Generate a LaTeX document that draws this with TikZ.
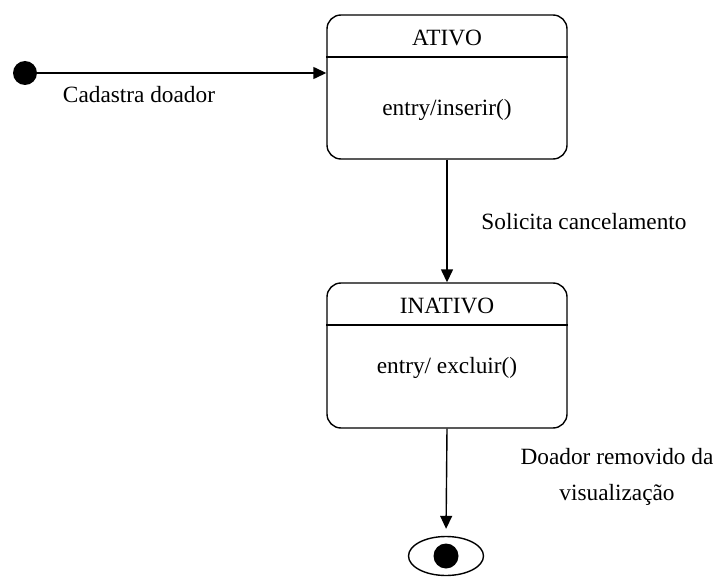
\documentclass[tikz,border=0pt]{standalone}
\usepackage{fontspec}
\setmainfont{Liberation Serif}
\usetikzlibrary{arrows.meta,shapes.geometric}

\tikzset{
  statebox/.style={draw, line width=1.4pt, rounded corners=14pt, minimum width=240pt, inner sep=0pt},
  flow/.style={line width=1.4pt, -{Triangle[length=13pt,width=12pt]}},
  lbl/.style={inner sep=0pt, font=\fontsize{23.3}{36}\selectfont, align=center},
  dot/.style={circle, fill=black, inner sep=0pt, minimum size=24pt},
}

\begin{document}
\begin{tikzpicture}[x=1pt,y=-1pt]
  \useasboundingbox (0,0) rectangle (723,583);

  % initial pseudo-state
  \node[dot] (init) at (25,73) {};

  % state ATIVO
  \node[statebox, minimum height=144pt] (ativo) at (447,87) {};
  \coordinate (ativoDiv) at (447,57);
  \draw[line width=1.4pt] (ativo.west |- ativoDiv) -- (ativo.east |- ativoDiv);
  \node[lbl] (ativoT) at (447,38) {ATIVO};
  \node[lbl] (ativoE) at (447,110) {entry/inserir()};

  % state INATIVO
  \node[statebox, minimum height=145pt] (inativo) at (447,355.5) {};
  \coordinate (inativoDiv) at (447,325);
  \draw[line width=1.4pt] (inativo.west |- inativoDiv) -- (inativo.east |- inativoDiv);
  \node[lbl] (inativoT) at (447,306) {INATIVO};
  \node[lbl] (inativoE) at (447,368) {entry/ excluir()};

  % final state
  \node[ellipse, draw, line width=1.4pt, minimum width=75pt, minimum height=39pt, inner sep=0pt] (final) at (446,556) {};
  \node[dot, minimum size=25pt] (finalDot) at (final.center) {};

  % transitions
  \draw[flow] (init) -- (init -| ativo.west);
  \node[lbl] (l1) at (139,95) {Cadastra doador};

  \draw[flow] (ativo.south) -- (inativo.north);
  \node[lbl] (l2) at (584,222) {Solicita cancelamento};

  \draw[flow, shorten >=7pt] (inativo.south) -- (final.north);
  \node[lbl] (l3) at (617,477) {Doador removido da\\visualização};
\end{tikzpicture}
\end{document}
